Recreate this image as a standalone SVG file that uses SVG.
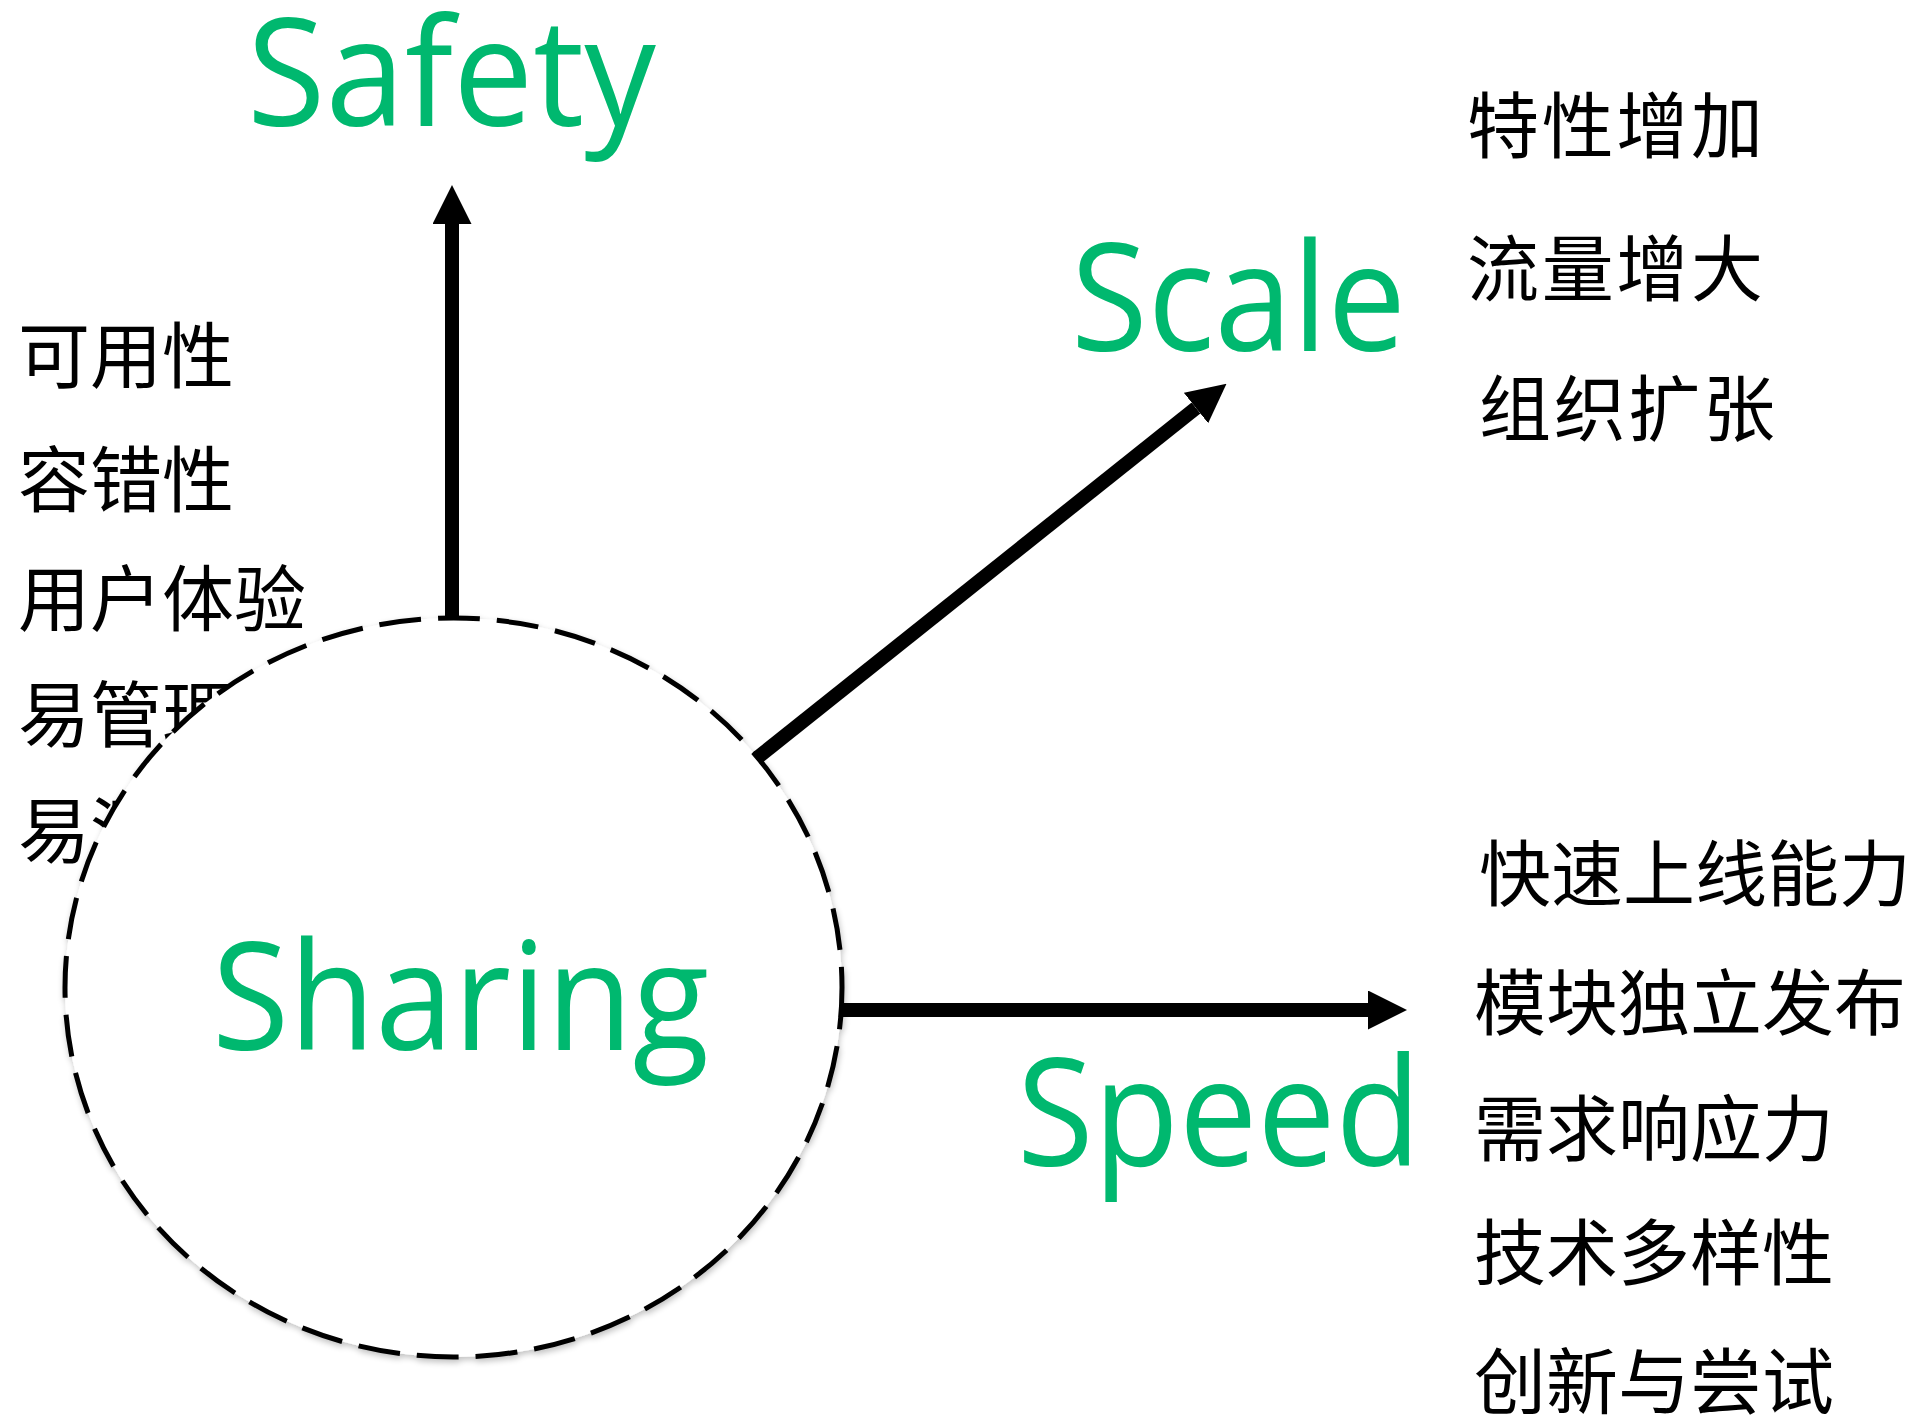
<svg xmlns="http://www.w3.org/2000/svg" width="1918" height="1418" viewBox="0 0 1918 1418">
<style>
.title{font-family:"Open Sans","Lato",sans-serif;fill:#00b86f;font-size:150px}
.item{font-family:"Noto Sans CJK SC","Noto Sans",sans-serif;fill:#000;font-size:72px}
.conn{stroke:#000;stroke-width:14;fill:none}
</style>
<defs>
<marker id="arrow" viewBox="0 0 39 39" markerUnits="userSpaceOnUse" markerWidth="39" markerHeight="39" refX="0" refY="19.5" orient="auto">
<path d="M0,0 L39,19.5 L0,39 z" fill="#000"/>
</marker>
<filter id="shadow" x="-10%" y="-10%" width="120%" height="120%">
<feGaussianBlur in="SourceAlpha" stdDeviation="3"/>
<feOffset dx="1" dy="3" result="b"/>
<feComponentTransfer><feFuncA type="linear" slope="0.25"/></feComponentTransfer>
<feMerge><feMergeNode/><feMergeNode in="SourceGraphic"/></feMerge>
</filter>
</defs>
<rect width="1918" height="1418" fill="#fff"/>
<g id="safety-list">
<text class="item" x="18" y="382">可用性</text>
<text class="item" x="18" y="506">容错性</text>
<text class="item" x="18" y="625">用户体验</text>
<text class="item" x="18" y="741">易管理</text>
<text class="item" x="18" y="857">易测试</text>
</g>
<g id="sharing">
<ellipse cx="453.5" cy="987.5" rx="388.5" ry="369.5" fill="#fff" stroke="#000" stroke-width="5" stroke-dasharray="42 17" filter="url(#shadow)"/>
<text class="title" x="212" y="1050" textLength="497" lengthAdjust="spacingAndGlyphs">Sharing</text>
</g>
<g id="safety">
<text class="title" x="247" y="126" textLength="409" lengthAdjust="spacingAndGlyphs">Safety</text>
</g>
<g id="scale">
<text class="title" x="1071" y="351" textLength="335" lengthAdjust="spacingAndGlyphs">Scale</text>
<text class="item" x="1467" y="152" textLength="296">特性增加</text>
<text class="item" x="1467" y="295" textLength="296">流量增大</text>
<text class="item" x="1479" y="435" textLength="296">组织扩张</text>
</g>
<g id="speed">
<text class="title" x="1017" y="1166" textLength="404" lengthAdjust="spacingAndGlyphs">Speed</text>
<text class="item" x="1479" y="900">快速上线能力</text>
<text class="item" x="1474" y="1029">模块独立发布</text>
<text class="item" x="1474" y="1155">需求响应力</text>
<text class="item" x="1474" y="1279">技术多样性</text>
<text class="item" x="1474" y="1408">创新与尝试</text>
</g>
<g id="connectors">
<line class="conn" x1="452" y1="620" x2="452" y2="224" marker-end="url(#arrow)"/>
<line class="conn" x1="757" y1="758" x2="1196" y2="408" marker-end="url(#arrow)"/>
<line class="conn" x1="842" y1="1010" x2="1368" y2="1010" marker-end="url(#arrow)"/>
</g>
</svg>
